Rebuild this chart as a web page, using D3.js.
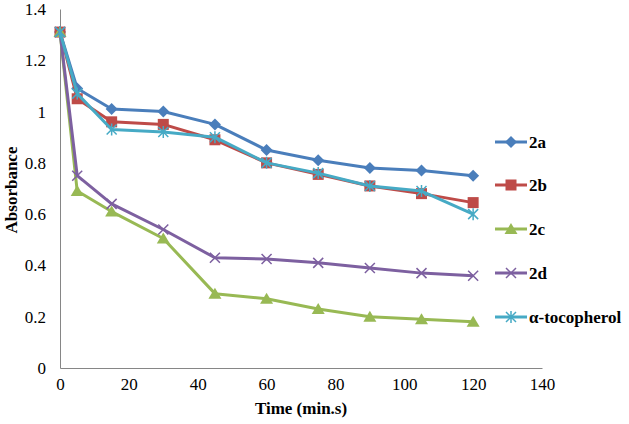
<!DOCTYPE html>
<html><head><meta charset="utf-8">
<script src="https://cdn.jsdelivr.net/npm/d3@7"></script>
<style>body{margin:0;background:#fff}svg{display:block}</style>
</head><body>
<svg id="c" width="629" height="424" style="font-family:'Liberation Serif',serif"></svg>
<script>
const times = [0, 5, 15, 30, 45, 60, 75, 90, 105, 120];
const s2a = [1.31, 1.09, 1.01, 1.00, 0.95, 0.85, 0.81, 0.78, 0.77, 0.75];
const s2b = [1.31, 1.05, 0.96, 0.95, 0.89, 0.80, 0.755, 0.71, 0.68, 0.645];
const s2c = [1.31, 0.69, 0.61, 0.505, 0.29, 0.27, 0.23, 0.20, 0.19, 0.18];
const s2d = [1.31, 0.75, 0.64, 0.54, 0.43, 0.425, 0.41, 0.39, 0.37, 0.36];
const sToco = [1.31, 1.07, 0.93, 0.92, 0.90, 0.80, 0.76, 0.71, 0.69, 0.60];
const seriesNames = ["2a", "2b", "2c", "2d", "α-tocopherol"];
const xTicks = [0, 20, 40, 60, 80, 100, 120, 140];
const yTicks = [0, 0.2, 0.4, 0.6, 0.8, 1.0, 1.2, 1.4];

const colors = ["#4a7ebb", "#be4b48", "#98b954", "#7d60a0", "#46aac5"];
const shapes = ["diamond", "square", "triangle", "x", "star"];
const data = [s2a, s2b, s2c, s2d, sToco];

const svg = d3.select("#c");
const x = d3.scaleLinear().domain([0, 140]).range([60, 542]);
const y = d3.scaleLinear().domain([0, 1.4]).range([368, 9]);
const FONT = '"Liberation Serif"';
const fs = "17px";

function styleText(sel, bold) {
  sel.attr("font-family", "Liberation Serif").attr("font-size", 17)
    .style("font-family", FONT).style("font-size", fs).attr("fill", "#000");
  if (bold) sel.attr("font-weight", "bold").style("font-weight", "bold");
  return sel;
}

// axes
const xAxis = svg.append("g").attr("transform", "translate(0,368)")
  .call(d3.axisBottom(x).tickValues(xTicks).tickSize(0).tickPadding(10).tickFormat(d3.format("d")));
const yAxis = svg.append("g").attr("transform", "translate(60,0)")
  .call(d3.axisLeft(y).tickValues(yTicks).tickSize(0).tickPadding(14).tickFormat(d => d === 1 ? "1" : d3.format("~g")(d)));
[xAxis, yAxis].forEach(a => {
  a.attr("font-family", "Liberation Serif").attr("font-size", 17);
  a.select(".domain").attr("stroke", "#868686").attr("stroke-width", 1);
  styleText(a.selectAll("text"), false);
});

const line = d3.line().x((d, i) => x(times[i])).y(d => y(d));

function marker(g, shape, color, cx, cy) {
  if (shape === "diamond") {
    g.append("path").attr("d", `M${cx},${cy-6}L${cx+6},${cy}L${cx},${cy+6}L${cx-6},${cy}Z`).attr("fill", color);
  } else if (shape === "square") {
    g.append("rect").attr("x", cx-5.5).attr("y", cy-5.5).attr("width", 11).attr("height", 11).attr("fill", color);
  } else if (shape === "triangle") {
    g.append("path").attr("d", `M${cx},${cy-6}L${cx+6.5},${cy+5}L${cx-6.5},${cy+5}Z`).attr("fill", color);
  } else if (shape === "x") {
    g.append("path").attr("d", `M${cx-5},${cy-5}L${cx+5},${cy+5}M${cx-5},${cy+5}L${cx+5},${cy-5}`).attr("stroke", color).attr("stroke-width", 1.5);
  } else if (shape === "star") {
    g.append("path").attr("d", `M${cx-5},${cy-5}L${cx+5},${cy+5}M${cx-5},${cy+5}L${cx+5},${cy-5}M${cx},${cy-6}L${cx},${cy+6}`).attr("stroke", color).attr("stroke-width", 1.5);
  }
}

data.forEach((vals, k) => {
  const g = svg.append("g");
  g.append("path").datum(vals).attr("d", line).attr("fill", "none")
    .attr("stroke", colors[k]).attr("stroke-width", 3).attr("stroke-linejoin", "round");
  vals.forEach((v, i) => marker(g, shapes[k], colors[k], x(times[i]), y(v)));
});

// legend
const legY = [142, 185, 229, 273, 317];
seriesNames.forEach((n, k) => {
  const g = svg.append("g");
  g.append("line").attr("x1", 495).attr("x2", 527).attr("y1", legY[k]).attr("y2", legY[k])
    .attr("stroke", colors[k]).attr("stroke-width", 3);
  marker(g, shapes[k], colors[k], 511, legY[k]);
  styleText(g.append("text").attr("x", 529).attr("y", legY[k]).attr("dy", "0.35em"), true).text(n);
});

// axis titles
styleText(svg.append("text").attr("x", 301).attr("y", 414).attr("text-anchor", "middle"), true).text("Time (min.s)");
styleText(svg.append("text").attr("transform", "translate(17,190) rotate(-90)").attr("text-anchor", "middle"), true).text("Absorbance");
</script>
</body></html>
